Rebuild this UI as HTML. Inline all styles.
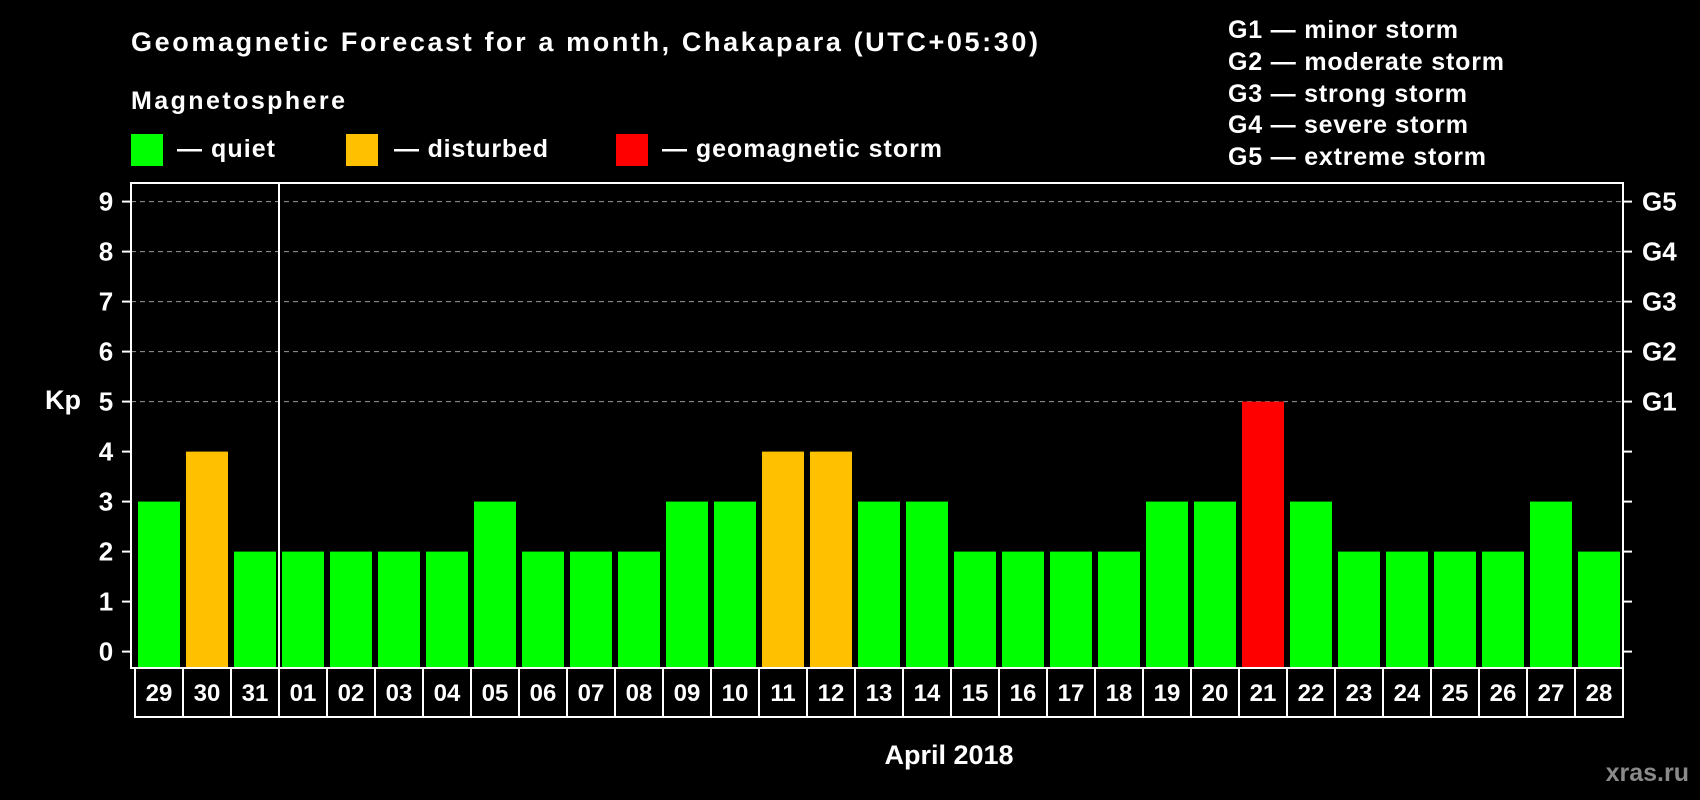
<!DOCTYPE html>
<html><head><meta charset="utf-8"><style>
html,body{margin:0;padding:0;background:#000;}
svg{display:block;font-family:"Liberation Sans",sans-serif;font-weight:bold;}
</style></head><body>
<svg id="chart" width="1700" height="800" viewBox="0 0 1700 800">
<text x="131" y="51" fill="#fff" font-size="27" textLength="907">Geomagnetic Forecast for a month, Chakapara (UTC+05:30)</text>
<text x="131" y="109" fill="#fff" font-size="25" textLength="214">Magnetosphere</text>
<g>
<rect x="131" y="134" width="32" height="32" fill="#00ff00"/>
<text x="177" y="157" fill="#fff" font-size="25" textLength="98">— quiet</text></g>
<g>
<rect x="346" y="134" width="32" height="32" fill="#ffc000"/>
<text x="394" y="157" fill="#fff" font-size="25" textLength="154">— disturbed</text></g>
<g>
<rect x="616" y="134" width="32" height="32" fill="#ff0000"/>
<text x="662" y="157" fill="#fff" font-size="25" textLength="280">— geomagnetic storm</text></g>
<g fill="#fff" font-size="25">
<text x="1228" y="38" textLength="230">G1 — minor storm</text>
<text x="1228" y="70" textLength="276">G2 — moderate storm</text>
<text x="1228" y="102" textLength="239">G3 — strong storm</text>
<text x="1228" y="133" textLength="240">G4 — severe storm</text>
<text x="1228" y="165" textLength="258">G5 — extreme storm</text>
</g>
<g id="grid"></g>
<g id="bars"></g>
<g id="axes"></g>
<text x="63" y="409" fill="#fff" font-size="27" text-anchor="middle">Kp</text>
<text x="949" y="764" fill="#fff" font-size="27" text-anchor="middle">April 2018</text>
<text x="1689" y="781" fill="#8a8a8a" font-size="25" text-anchor="end">xras.ru</text>
</svg>
<script>
const days = ["29","30","31","01","02","03","04","05","06","07","08","09","10","11","12","13","14","15","16","17","18","19","20","21","22","23","24","25","26","27","28"];
const kpValues = [3,4,2,2,2,2,2,3,2,2,2,3,3,4,4,3,3,2,2,2,2,3,3,5,3,2,2,2,2,3,2];
const yTicks = [0,1,2,3,4,5,6,7,8,9];
const gLabels = ["G1","G2","G3","G4","G5"];
const gLevels = [5,6,7,8,9];

const NS="http://www.w3.org/2000/svg";
const L=131, R=1623, T=183, B=668, X0=135, SLOT=48, BW=42;
const y = v => 651.6 - v*50;
const x = i => X0 + i*SLOT;
function mk(tag, attrs, parent){const e=document.createElementNS(NS,tag);for(const k in attrs)e.setAttribute(k,attrs[k]);parent.appendChild(e);return e;}
const grid=document.getElementById('grid'), bars=document.getElementById('bars'), axes=document.getElementById('axes');

gLevels.forEach(v=>{
  const ln=mk('line',{x1:L,x2:R,y1:y(v),y2:y(v),stroke:'#9a9a9a','stroke-width':1,'stroke-dasharray':'5,4'},grid);
  
  
});
kpValues.forEach((v,i)=>{
  const c = v>=5?'#ff0000':(v>=4?'#ffc000':'#00ff00');
  const r=mk('rect',{x:x(i)+3,y:y(v),width:BW,height:y(0)-y(v)+16.4,fill:c},bars);
  
  
});
const frame=mk('rect',{x:L,y:T,width:R-L,height:B-T,fill:'none',stroke:'#fff','stroke-width':2},axes);


const sep=mk('line',{x1:x(3),x2:x(3),y1:T,y2:B,stroke:'#fff','stroke-width':2},axes);


yTicks.forEach(v=>{
  mk('line',{x1:L-9,x2:L,y1:y(v),y2:y(v),stroke:'#fff','stroke-width':2},axes);
  mk('line',{x1:R,x2:R+9,y1:y(v),y2:y(v),stroke:'#fff','stroke-width':2},axes);
  const t=mk('text',{x:106,y:y(v)+9,fill:'#fff','font-size':26,'text-anchor':'middle'},axes);
  t.textContent=v;
  
  
});
gLabels.forEach((g,i)=>{
  const t=mk('text',{x:1642,y:y(gLevels[i])+9,fill:'#fff','font-size':26},axes);
  t.textContent=g;
  
  
});
days.forEach((d,i)=>{
  const bx=mk('rect',{x:x(i),y:B,width:SLOT,height:49,fill:'none',stroke:'#fff','stroke-width':2},axes);
  
  
  const t=mk('text',{x:x(i)+SLOT/2,y:B+33,fill:'#fff','font-size':24,'text-anchor':'middle'},axes);
  t.textContent=d;
  
  
});
</script>
</body></html>
